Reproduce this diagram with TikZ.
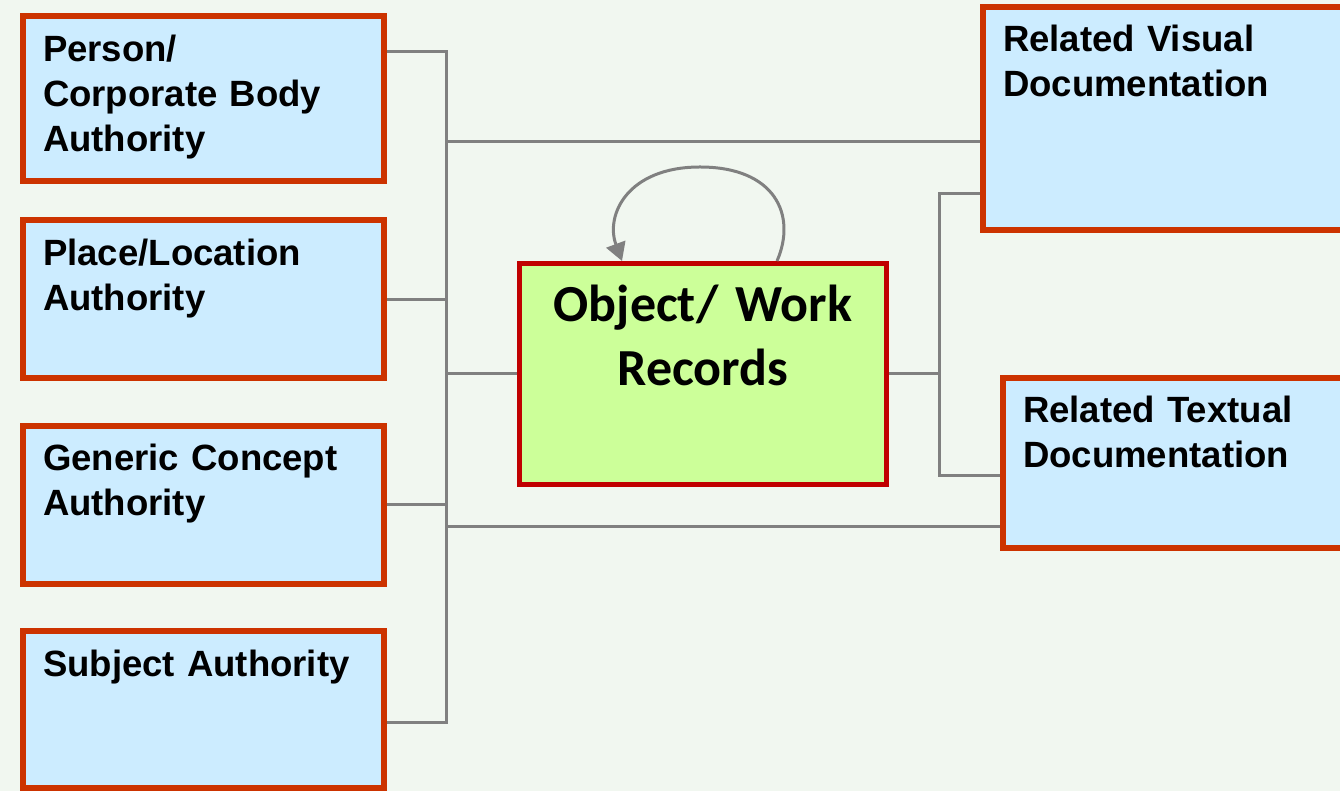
\documentclass[tikz,border=0pt]{standalone}
\usepackage{fontspec}
\setmainfont{Liberation Sans}
\newfontfamily\calibri{Carlito}
\usetikzlibrary{arrows.meta}

\definecolor{bgcol}{HTML}{F1F7F0}
\definecolor{boxblue}{HTML}{CCECFF}
\definecolor{boxred}{HTML}{CC3300}
\definecolor{workgreen}{HTML}{CCFF99}
\definecolor{workred}{HTML}{C00000}
\definecolor{linkgray}{HTML}{808080}

\tikzset{
  authbox/.style={draw=boxred, fill=boxblue, line width=0.12cm, anchor=north west,
    inner xsep=0.4cm, inner ysep=0pt, text width=6.42cm, align=left,
    text height=0.9cm, text depth=#1, font=\fontsize{20.8}{25.6}\selectfont\bfseries},
  docbox/.style={authbox=#1, text width=7.6cm},
  workbox/.style={draw=workred, fill=workgreen, line width=0.1cm, anchor=north west,
    inner xsep=0.2cm, inner ysep=0pt, text width=6.94cm, align=center,
    text height=1.17cm, text depth=3.25cm, font=\calibri\fontsize{29.6}{35.9}\selectfont\bfseries},
  link/.style={draw=linkgray, line width=0.06cm}
}

\begin{document}
\begin{tikzpicture}
\useasboundingbox (0,0) rectangle (26.8,15.82);
\clip (0,0) rectangle (26.8,15.82);
\fill[bgcol] (0,0) rectangle (26.8,15.82);

\node[authbox=2.4cm] (person) at (0.40,15.554) {Person/\\Corporate Body\\Authority};
\node[authbox=2.26cm] (place) at (0.40,11.474) {Place/Location\\Authority};
\node[authbox=2.26cm] (concept) at (0.40,7.36) {Generic Concept\\Authority};
\node[authbox=2.24cm] (subject) at (0.40,3.26) {Subject Authority};
\node[docbox=3.56cm] (visual) at (19.6,15.74) {Related Visual\\Documentation};
\node[docbox=2.5cm] (textual) at (20.0,8.32) {Related Textual\\Documentation};
\node[workbox] (work) at (10.34,10.6) {Object/ Work\\Records};

% left trunk
\coordinate (ltop) at (8.92,14.78);
\coordinate (lbot) at (8.92,1.38);
\coordinate (lvis) at (8.92,12.98);
\coordinate (ltxt) at (8.92,5.28);
\draw[link] (person.east |- ltop) -- (ltop) -- (lbot) -- (subject.east |- lbot);
\draw[link] (place.east) -- (place.east -| ltop);
\draw[link] (concept.east) -- (concept.east -| ltop);
\draw[link] (work.west) -- (work.west -| ltop);
\draw[link] (lvis) -- (visual.west |- lvis);
\draw[link] (ltxt) -- (textual.west |- ltxt);

% right trunk
\coordinate (rtop) at (18.78,11.94);
\coordinate (rbot) at (18.78,6.30);
\draw[link] (work.east) -- (work.east -| rtop);
\draw[link] (visual.west |- rtop) -- (rtop) -- (rbot) -- (textual.west |- rbot);

% self loop
\draw[link, -{Triangle[length=0.36cm, width=0.4cm]}] ([xshift=5.2cm]work.north west)
  .. controls (15.94,11.52) and (15.5,12.48) .. (14.0,12.48)
  .. controls (12.55,12.48) and (12.1,11.52) .. ([xshift=2.1cm]work.north west);

\end{tikzpicture}
\end{document}
